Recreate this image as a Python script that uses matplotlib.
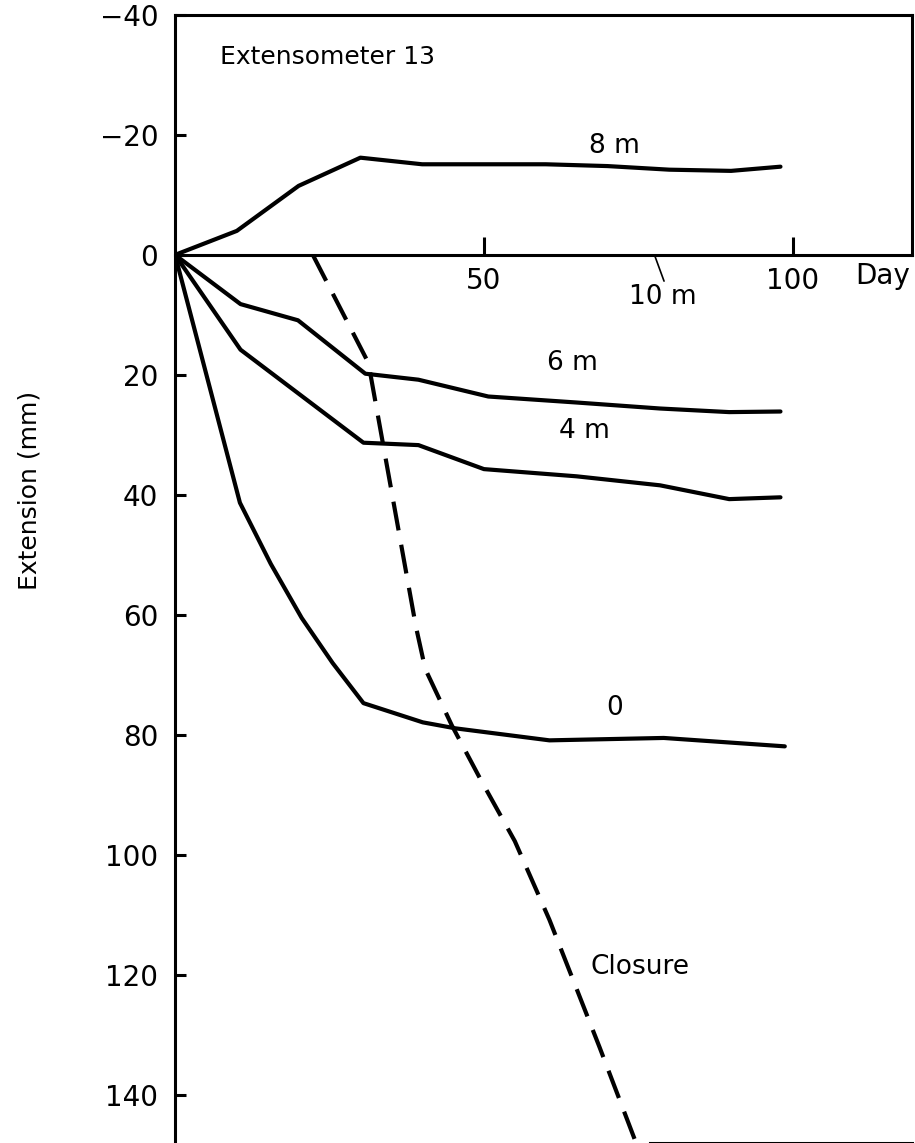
import matplotlib.pyplot as plt

plt.rcParams['font.family'] = ['DejaVu Sans']

# days and extension (mm), negative = upward on the chart
days_8m = [0, 10, 20, 30, 40, 50, 60, 70, 80, 90, 98]
ext_8m = [0, -4.0, -11.5, -16.2, -15.1, -15.1, -15.1, -14.8, -14.2, -14.0, -14.7]

days_6m = [0, 10.6, 19.9, 30.8, 39.4, 50.7, 65, 78.5, 89.7, 98]
ext_6m = [0, 8.2, 10.9, 19.8, 20.8, 23.6, 24.6, 25.6, 26.2, 26.1]

days_4m = [0, 10.6, 30.5, 39.4, 50, 65, 78.5, 89.7, 98]
ext_4m = [0, 15.8, 31.3, 31.7, 35.7, 36.9, 38.4, 40.7, 40.4]

days_0 = [0, 10.5, 15.5, 20.5, 25.5, 30.5, 40.1, 45.4, 60.6, 79.1, 98.7]
ext_0 = [0, 41.3, 51.5, 60.5, 68.0, 74.7, 77.9, 78.9, 80.9, 80.5, 81.9]

days_cl = [22.3, 31.3, 35.5, 39.0, 40.5, 44.8, 49.5, 55.0, 60.6, 68.7, 75.0]
ext_cl = [0, 18, 42, 62, 69, 78.4, 87.5, 97.7, 110.8, 132, 149]

yticks = [-40, -20, 0, 20, 40, 60, 80, 100, 120, 140]
xticks = [50, 100]

fig = plt.figure(figsize=(9.15, 11.43), dpi=100)
ax = fig.add_axes([0.1913, 0.0, 0.8055, 0.987])

lw = 3.0
for d, e in [(days_8m, ext_8m), (days_6m, ext_6m), (days_4m, ext_4m), (days_0, ext_0)]:
    ax.plot(d, e, color='black', lw=lw, solid_capstyle='round', solid_joinstyle='round')
ax.plot(days_cl, ext_cl, color='black', lw=lw, dashes=(7, 3.5))

ax.set_xlim(0, 119.3)
ax.set_ylim(148, -40)

for s in ['left', 'top', 'right', 'bottom']:
    ax.spines[s].set_linewidth(2.2)
ax.spines['bottom'].set_position(('data', 0))
ax.spines['right'].set_bounds(-40, 0)
ax.axhline(148, xmin=0.645, xmax=1, color='black', lw=2.2, clip_on=False)

ax.set_yticks(yticks)
ax.set_yticklabels([str(v) if v >= 0 else '\u2212' + str(-v) for v in yticks])
ax.tick_params(axis='y', direction='in', length=8, width=2.2, labelsize=20, pad=12)
ax.set_xticks(xticks)
ax.set_xticklabels([str(v) for v in xticks])
ax.tick_params(axis='x', direction='in', length=13, width=2.2, labelsize=20, pad=9)

ax.text(114.5, 3.6, 'Day', fontsize=20, ha='center', va='center')

ax.set_ylabel('Extension (mm)', fontsize=18)
ax.yaxis.set_label_coords(-0.181, 0.578)

ax.text(7.3, -33, 'Extensometer 13', fontsize=18, ha='left', va='center')
ax.text(71.2, -18.2, '8 m', fontsize=19, ha='center', va='center')
ax.text(64.4, 18.0, '6 m', fontsize=19, ha='center', va='center')
ax.text(66.3, 29.3, '4 m', fontsize=19, ha='center', va='center')
ax.text(71.2, 75.5, '0', fontsize=19, ha='center', va='center')
ax.text(67.3, 118.7, 'Closure', fontsize=19, ha='left', va='center')
ax.annotate('10 m', xy=(77.6, 0), xytext=(79.0, 7.0), fontsize=19,
            ha='center', va='center',
            arrowprops=dict(arrowstyle='-', lw=1.2, color='black',
                            relpos=(0.55, 0.85), shrinkA=0, shrinkB=0))

fig.savefig('out.png', dpi=100)
